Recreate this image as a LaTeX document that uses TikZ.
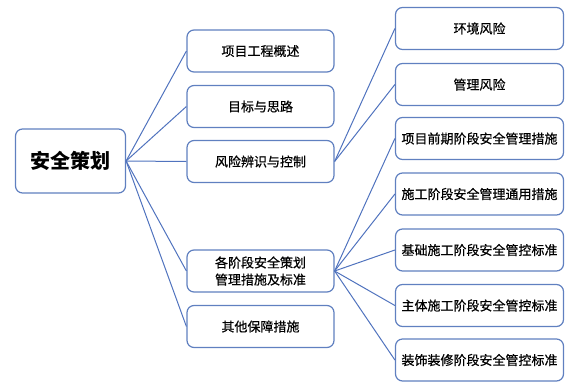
\documentclass[tikz,border=0pt]{standalone}
\usepackage{fontspec}
\setmainfont{Noto Sans CJK SC}
\newfontfamily\medfont[FakeBold=0.6]{Noto Sans CJK SC}
\begin{document}
\begin{tikzpicture}[x=1pt,y=-1pt,
  box/.style={draw=bordc,line width=1.2pt,rounded corners=7pt,fill=white,inner sep=0pt,align=center,font=\fontsize{13}{17}\medfont\selectfont},
  lone/.style={box,minimum width=147pt,minimum height=42pt},
  ltwo/.style={box,minimum width=168pt,minimum height=42pt},
  link/.style={draw=linec,line width=1pt}]
\definecolor{bordc}{RGB}{96,128,192}
\definecolor{linec}{RGB}{80,115,190}
\useasboundingbox (0,0) rectangle (569,383);
\node[box,minimum width=110pt,minimum height=64pt,font=\fontsize{20}{24}\selectfont\bfseries] (root) at (70.5,161) {安全策划};
\node[lone] (a1) at (260.5,51) {项目工程概述};
\node[lone] (a2) at (260.5,106.5) {目标与思路};
\node[lone] (a3) at (260.5,161.5) {风险辨识与控制};
\node[lone] (a4) at (260.5,271) {各阶段安全策划\\管理措施及标准};
\node[lone] (a5) at (260.5,326.5) {其他保障措施};
\node[ltwo] (b1) at (479.5,28.5) {环境风险};
\node[ltwo] (b2) at (479.5,84.5) {管理风险};
\node[ltwo] (c1) at (479.5,138.5) {项目前期阶段安全管理措施};
\node[ltwo] (c2) at (479.5,194) {施工阶段安全管理通用措施};
\node[ltwo] (c3) at (479.5,250) {基础施工阶段安全管控标准};
\node[ltwo] (c4) at (479.5,305.5) {主体施工阶段安全管控标准};
\node[ltwo] (c5) at (479.5,360) {装饰装修阶段安全管控标准};
\foreach \t in {a1,a2,a3,a4,a5} \draw[link] (root.east) -- (\t.west);
\foreach \t in {b1,b2} \draw[link] (a3.east) -- (\t.west);
\foreach \t in {c1,c2,c3,c4,c5} \draw[link] (a4.east) -- (\t.west);
\end{tikzpicture}
\end{document}
